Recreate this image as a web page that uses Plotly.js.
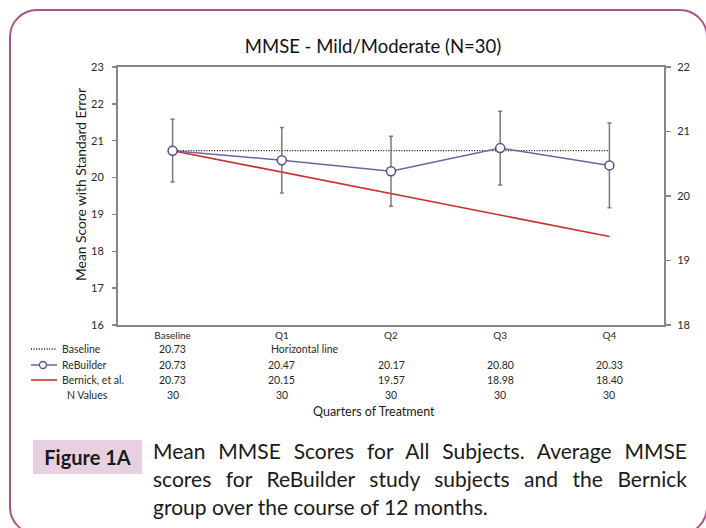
<!DOCTYPE html>
<html>
<head>
<meta charset="utf-8">
<script src="https://cdn.plot.ly/plotly-3.0.1.min.js"></script>
<style>
  html, body { margin:0; padding:0; background:#fff; }
  #wrap { position:relative; width:706px; height:528px; overflow:hidden; background:#fff; }
  #chart { position:absolute; left:0; top:0; width:706px; height:528px; }
  #frame { position:absolute; left:9px; top:9px; width:695px; height:522px; border:2px solid #a9548c; border-radius:28px; pointer-events:none; }
  #figlab { position:absolute; left:33px; top:440px; width:109px; height:34px; background:#e7d0e0; font-family:Lato, sans-serif; font-weight:bold; font-size:20px; color:#1a1a1a; display:flex; align-items:center; justify-content:center; }
  #cap { position:absolute; left:153px; top:437px; width:534px; font-family:Lato, sans-serif; font-size:21px; line-height:28px; color:#1a1a1a; }
  #cap .j { text-align:justify; text-align-last:justify; }
</style>
</head>
<body>
<div id="wrap">
  <div id="chart"></div>
  <div id="frame"></div>
  <div id="figlab">Figure 1A</div>
  <div id="cap">
    <div class="j">Mean MMSE Scores for All Subjects. Average MMSE</div>
    <div class="j">scores for ReBuilder study subjects and the Bernick</div>
    <div>group over the course of 12 months.</div>
  </div>
</div>
<script>
// ---- data ----
var categories = ["Baseline", "Q1", "Q2", "Q3", "Q4"];
var baselineValues = [20.73, 20.73, 20.73, 20.73, 20.73];
var rebuilderValues = [20.73, 20.47, 20.17, 20.80, 20.33];
var rebuilderErrors = [0.85, 0.89, 0.95, 1.00, 1.15];
var bernickValues = [20.73, 20.15, 19.57, 18.98, 18.40];
var nValues = [30, 30, 30, 30, 30];
var rowLabels = ["Baseline", "ReBuilder", "Bernick, et al.", "N Values"];
var leftTicks = [16, 17, 18, 19, 20, 21, 22, 23];
var rightTicks = [18, 19, 20, 21, 22];

// ---- layout helpers (pixel -> paper) ----
var L = 118, R = 42, T = 67, B = 203, W = 706, H = 528;
var PW = W - L - R, PH = H - T - B;
function py(p) { return (H - B - p) / PH; }
function px(p) { return (p - L) / PW; }

var FONT = "Lato, 'Noto Sans', sans-serif";
var axisCol = "#868686";
var txtCol = "#2a2a2a";
var TS = 10.5;

var traces = [
  { x: categories, y: baselineValues, type: "scatter", mode: "lines",
    line: { color: "#111", width: 1.4, dash: "1px,1.6px" }, hoverinfo: "skip" },
  { x: categories, y: bernickValues, type: "scatter", mode: "lines",
    line: { color: "#c8302c", width: 1.6 }, hoverinfo: "skip" },
  { x: categories, y: rebuilderValues, type: "scatter", mode: "lines+markers",
    line: { color: "#6f64a0", width: 1.5 },
    marker: { symbol: "circle", size: 9, color: "#ffffff", line: { color: "#5a4d8c", width: 1.5 } },
    error_y: { type: "data", array: rebuilderErrors, visible: true, color: "#7a7a7a", thickness: 1.5, width: 2 } },
  { x: [], y: [], yaxis: "y2", type: "scatter", mode: "lines", hoverinfo: "skip" }
];

var ann = [];
var rowY = [349, 365, 380, 395];
function lab(t, x, y) {
  return { text: t, xref: "paper", yref: "paper", x: px(x), y: py(y), xanchor: "left", yanchor: "middle", showarrow: false, font: { family: FONT, size: TS, color: txtCol } };
}
ann.push(lab(rowLabels[0], 60, rowY[0]));
ann.push(lab(rowLabels[1], 60, rowY[1]));
ann.push(lab(rowLabels[2], 60, rowY[2]));
ann.push(lab(rowLabels[3], 65, rowY[3]));

function val(t, i, y) {
  return { text: t, xref: "x", yref: "paper", x: categories[i], y: py(y), xanchor: "center", yanchor: "middle", showarrow: false, font: { family: FONT, size: TS, color: txtCol } };
}
ann.push(val(baselineValues[0].toFixed(2), 0, rowY[0]));
ann.push({ text: "Horizontal line", xref: "x", yref: "paper", x: categories[1], xshift: -13, y: py(rowY[0]), xanchor: "left", yanchor: "middle", showarrow: false, font: { family: FONT, size: TS, color: txtCol } });
for (var i = 0; i < categories.length; i++) {
  ann.push(val(rebuilderValues[i].toFixed(2), i, rowY[1]));
  ann.push(val(bernickValues[i].toFixed(2), i, rowY[2]));
  ann.push(val(String(nValues[i]), i, rowY[3]));
}
ann.push({ text: "Quarters of Treatment", xref: "paper", yref: "paper", x: px(374), y: py(411), xanchor: "center", yanchor: "middle", showarrow: false, font: { family: FONT, size: 12.5, color: "#1a1a1a" } });
ann.push({ text: "Mean Score with Standard Error", xref: "paper", yref: "paper", x: px(80), y: py(185), xanchor: "center", yanchor: "middle", textangle: -90, showarrow: false, font: { family: FONT, size: 13.8, color: "#1a1a1a" } });

var shapes = [
  { type: "line", xref: "paper", yref: "paper", x0: px(31), x1: px(57), y0: py(rowY[0]), y1: py(rowY[0]), line: { color: "#111", width: 1.3, dash: "1px,1.6px" } },
  { type: "line", xref: "paper", yref: "paper", x0: px(31), x1: px(57), y0: py(rowY[1]), y1: py(rowY[1]), line: { color: "#6f64a0", width: 1.5 } },
  { type: "circle", xref: "paper", yref: "paper", x0: px(39.5), x1: px(46.5), y0: py(rowY[1] + 3.5), y1: py(rowY[1] - 3.5), fillcolor: "#ffffff", line: { color: "#5a4d8c", width: 1.3 } },
  { type: "line", xref: "paper", yref: "paper", x0: px(31), x1: px(57), y0: py(rowY[2]), y1: py(rowY[2]), line: { color: "#c8302c", width: 1.6 } }
];

var layout = {
  width: W, height: H,
  margin: { l: L, r: R, t: T, b: B, pad: 0 },
  paper_bgcolor: "#ffffff", plot_bgcolor: "#ffffff",
  showlegend: false,
  title: { text: "MMSE - Mild/Moderate (N=30)", font: { family: FONT, size: 18.5, color: "#111" },
           x: 373 / W, xanchor: "center", y: 1 - 47 / H, yanchor: "middle" },
  xaxis: { type: "category", range: [-0.5, 4.5], showgrid: false, zeroline: false,
           showline: true, linecolor: axisCol, linewidth: 2, mirror: true, ticks: "",
           tickfont: { family: FONT, size: 10, color: txtCol }, fixedrange: true },
  yaxis: { range: [16, 23], tickvals: leftTicks, showgrid: false, zeroline: false,
           showline: true, linecolor: axisCol, linewidth: 2, ticks: "outside", ticklen: 4, tickcolor: axisCol, tickwidth: 1.5,
           ticklabelstandoff: 6,
           tickfont: { family: FONT, size: 11, color: txtCol }, fixedrange: true },
  yaxis2: { overlaying: "y", side: "right", range: [18, 22], tickvals: rightTicks, showgrid: false, zeroline: false,
            showline: true, linecolor: axisCol, linewidth: 2, ticks: "outside", ticklen: 5, tickcolor: axisCol, tickwidth: 1.5,
            ticklabelstandoff: 4,
            tickfont: { family: FONT, size: 11, color: txtCol }, fixedrange: true },
  annotations: ann,
  shapes: shapes
};

Plotly.newPlot("chart", traces, layout, { staticPlot: true, displayModeBar: false });
</script>
</body>
</html>
